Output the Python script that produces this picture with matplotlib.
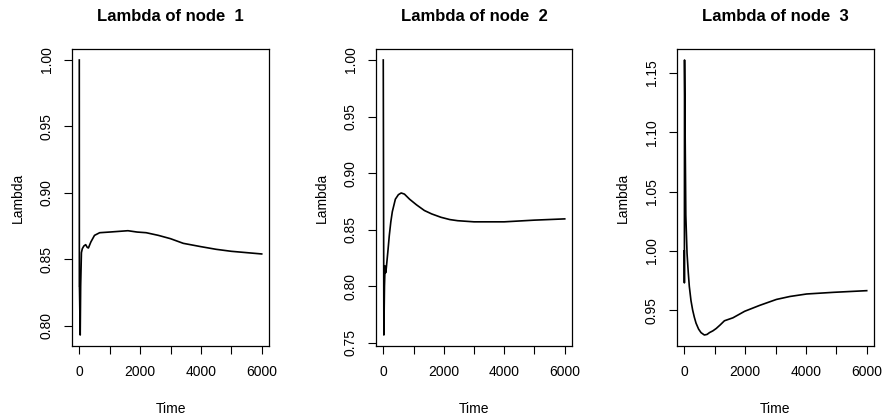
import numpy as np
import matplotlib.pyplot as plt

plt.rcParams['font.family'] = ['Liberation Sans', 'DejaVu Sans']

# node 1
t1 = [0, 2, 5, 30, 45, 70, 100, 150, 210, 260, 300, 380, 500, 670, 1000, 1300, 1600, 1900, 2200, 2600, 3000, 3420, 4000, 4500, 5000, 5500, 6000]
lam1 = [1.00, 0.83, 0.83, 0.793, 0.83, 0.855, 0.858, 0.860, 0.861, 0.859, 0.8585, 0.863, 0.868, 0.870, 0.8705, 0.871, 0.8715, 0.8705, 0.870, 0.868, 0.8655, 0.862, 0.8595, 0.8575, 0.856, 0.855, 0.854]

# node 2
t2 = [0, 20, 40, 60, 80, 100, 150, 200, 250, 300, 400, 500, 593, 700, 870, 1100, 1360, 1600, 1910, 2200, 2460, 3000, 3500, 4000, 5000, 6000]
lam2 = [1.00, 0.757, 0.80, 0.818, 0.812, 0.816, 0.830, 0.845, 0.857, 0.866, 0.877, 0.881, 0.8825, 0.8815, 0.877, 0.872, 0.867, 0.864, 0.861, 0.859, 0.858, 0.857, 0.857, 0.857, 0.8585, 0.8596]

# node 3
t3 = [0, 3, 8, 50, 90, 130, 165, 220, 275, 330, 386, 470, 550, 660, 750, 827, 940, 1050, 1180, 1320, 1600, 1985, 2480, 3030, 3474, 4025, 4908, 6000]
lam3 = [1.00, 0.973, 1.161, 1.03, 0.998, 0.982, 0.970, 0.958, 0.950, 0.944, 0.939, 0.934, 0.931, 0.929, 0.9295, 0.931, 0.9325, 0.9345, 0.9375, 0.941, 0.9435, 0.949, 0.954, 0.959, 0.9615, 0.9636, 0.965, 0.9664]

times = [t1, t2, t3]
lams = [lam1, lam2, lam3]
titles = ['Lambda of node  1', 'Lambda of node  2', 'Lambda of node  3']
yticks = [[0.80, 0.85, 0.90, 0.95, 1.00],
          [0.75, 0.80, 0.85, 0.90, 0.95, 1.00],
          [0.95, 1.00, 1.05, 1.10, 1.15]]
xticks = [0, 1000, 2000, 3000, 4000, 5000, 6000]
xticklabels = ['0', '', '2000', '', '4000', '', '6000']

fig = plt.figure(figsize=(8.84, 4.17), dpi=100)
W, H = 884, 417
boxes = [(72, 269), (376, 572), (677, 874)]
top, bottom = 49, 346

for i in range(3):
    l, r = boxes[i]
    ax = fig.add_axes([l / W, 1 - bottom / H, (r - l) / W, (bottom - top) / H])
    ax.plot(times[i], lams[i], color='black', lw=1.2)
    ax.margins(0.04)
    ax.set_xticks(xticks)
    ax.set_xticklabels(xticklabels)
    ax.set_yticks(yticks[i])
    ax.set_yticklabels(['%.2f' % v for v in yticks[i]], rotation=90, va='center')
    ax.tick_params(direction='out', length=6, width=0.8, labelsize=10)
    ax.tick_params(axis='x', pad=8)
    ax.tick_params(axis='y', pad=7)
    ax.set_title(titles[i], fontsize=12, fontweight='bold', pad=20.5)
    ax.set_xlabel('Time', fontsize=10, labelpad=16)
    ax.set_ylabel('Lambda', fontsize=10, labelpad=11)
    for s in ax.spines.values():
        s.set_linewidth(0.9)

fig.savefig('out.png', dpi=100)
